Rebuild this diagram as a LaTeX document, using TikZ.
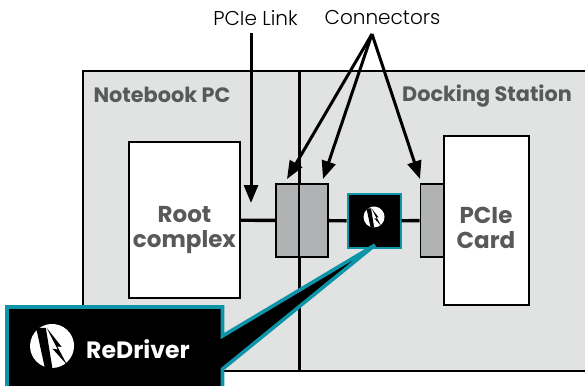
\documentclass[tikz,border=0pt]{standalone}
\usepackage{fontspec}
\setmainfont{Poppins}
\newfontfamily\thinfont{Poppins Light}
\usetikzlibrary{positioning, arrows.meta}
\definecolor{panelgrey}{HTML}{E1E3E2}
\definecolor{connectorgrey}{HTML}{B1B2B3}
\definecolor{labelgrey}{HTML}{58595B}
\definecolor{tealedge}{HTML}{0E94A8}
\tikzset{
	panel/.style={draw=black, fill=panelgrey, line width=2pt},
	whitebox/.style={draw=black, fill=white, line width=2pt},
	connector/.style={draw=black, fill=connectorgrey, line width=1.8pt, inner sep=0pt},
	chip/.style={draw=tealedge, fill=black, line width=2pt, inner sep=0pt},
	boxtext/.style={text=labelgrey, align=center, inner sep=0pt, font=\fontsize{23}{25.5}\selectfont\bfseries},
	paneltext/.style={text=labelgrey, font=\fontsize{20.8}{24}\selectfont\bfseries, inner sep=0pt},
	toptext/.style={text=black, font=\fontsize{20}{24}\selectfont\thinfont, inner sep=0pt},
	link/.style={line width=3.4pt, draw=black},
	pointer/.style={line width=3pt, draw=black, -{Triangle[length=18pt,width=14pt]}},
	logomark/.pic={
		\fill[white] (-0.6,-0.8) arc (233:360:1) arc (0:233:1) -- cycle;
		\fill[black] (-0.32,1.02) -- (0.02,1.02) -- (-0.28,-0.82) -- (-0.72,-0.82) -- cycle;
		\fill[black] (0.68,0.85) -- (0.02,0.12) -- (0.26,0.16) -- (-0.24,-0.82) -- (0.44,0.04) -- (0.24,0.02) -- cycle;
	}
}
\begin{document}
\begin{tikzpicture}[x=1pt, y=-1pt]
	\useasboundingbox (0,0) rectangle (585,385);
	\node[panel, minimum width=216pt, minimum height=300pt, inner sep=0pt] (notebook) at (191,221) {};
	\node[panel, minimum width=290pt, minimum height=300pt, inner sep=0pt] (docking) at (445,221) {};
	\node[paneltext] (notebooklabel) at (162,95) {Notebook PC};
	\node[paneltext] (dockinglabel) at (487,96) {Docking Station};

	\node[whitebox, minimum width=111pt, minimum height=156pt] (root) at (184.5,220) {};
	\node[whitebox, minimum width=85pt, minimum height=169pt] (card) at (486,220.5) {};
	\node[boxtext] (rootlabel) at (184.5,230) {Root\\complex};
	\node[boxtext] (cardlabel) at (486,228) {PCIe\\Card};
	\node[connector, minimum width=52pt, minimum height=73pt] (connleft) at (302,220.5) {};
	\node[connector, minimum width=23pt, minimum height=73pt] (connright) at (432,220.5) {};
	\node[chip, minimum width=53pt, minimum height=54pt] (driver) at (374,221) {};
	\draw[line width=2pt] (docking.north west) -- (docking.south west);
	\pic[scale=10.5] at (374,217) {logomark};

	\draw[link] (root) -- (connleft);
	\draw[link] (connleft) -- (driver);
	\draw[link] (driver) -- (connright);

	\node[toptext] (linklabel) at (255.5,18) {PCIe Link};
	\node[toptext] (connlabel) at (382.5,18) {Connectors};
	\coordinate (linkfrom) at (251,33);
	\coordinate (linkto) at (251,203);
	\coordinate (connfrom) at (372,34);
	\coordinate (conntoa) at (287,179);
	\coordinate (conntob) at (323,179);
	\coordinate (conntoc) at (420,179);
	\draw[pointer] (linkfrom) -- (linkto);
	\draw[pointer] (connfrom) -- (conntoa);
	\draw[pointer] (connfrom) -- (conntob);
	\draw[pointer] (connfrom) -- (conntoc);

	% callout
	\coordinate (calltip) at (375,245);
	\fill[black, draw=tealedge, line width=3.6pt, line join=miter]
		(7,307) -- (222.5,307) -- (222.5,336) -- (calltip) -- (222.5,369) -- (222.5,390) -- (7,390) -- cycle;
	\pic[scale=22] at (52,346) {logomark};
	\node[text=white, font=\fontsize{23.6}{26}\selectfont\bfseries, inner sep=0pt] (callname) at (138,349) {ReDriver};
\end{tikzpicture}
\end{document}
